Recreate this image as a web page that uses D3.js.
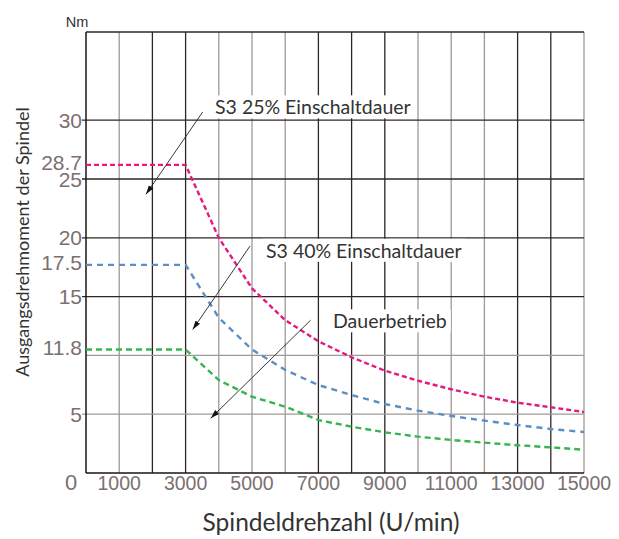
<!DOCTYPE html>
<meta charset="utf-8">
<style>
  body { margin: 0; background: #fff; }
  svg { display: block; }
</style>
<svg width="619" height="539"></svg>
<script src="https://cdn.jsdelivr.net/npm/d3@7"></script>
<script>

// drehzahl in U/min
var rpm = [0, 1000, 2000, 3000, 4000, 5000, 6000, 7000, 8000, 9000, 10000, 11000, 12000, 13000, 14000, 15000];

// drehmoment as drawn on the chart grid (Nm)
var s3_25 = [26.2, 26.2, 26.2, 26.2, 20.0, 15.7, 13.0, 11.2, 9.84, 8.7, 7.85, 7.12, 6.49, 5.98, 5.59, 5.19];
var s3_40 = [17.7, 17.7, 17.7, 17.7, 13.2, 10.5, 8.76, 7.48, 6.63, 5.87, 5.3, 4.85, 4.45, 4.08, 3.74, 3.49];
var dauer = [10.5, 10.5, 10.5, 10.5, 7.9, 6.49, 5.64, 4.5, 3.94, 3.46, 3.09, 2.81, 2.58, 2.36, 2.18, 1.98];

var seriesNames = ["S3 25% Einschaltdauer", "S3 40% Einschaltdauer", "Dauerbetrieb"];
var seriesColors = ["#e6197f", "#5b8ec3", "#35b550"];
var seriesLabels = ["28.7", "17.5", "11.8"];

var yTicks = [5, 15, 20, 25, 30];
var yGrid = [5, 10, 15, 20, 25, 30];
var xTicks = [1000, 3000, 5000, 7000, 9000, 11000, 13000, 15000];
var xGrid = d3.range(1000, 15001, 1000);

// annotation: text anchor and arrow from/to, in data units
var notes = [
  {text: seriesNames[0], tx: 3886, ty: 30.5, from: [3515, 30.7], to: [1807, 23.7]},
  {text: seriesNames[1], tx: 5422, ty: 18.3, from: [4940, 19.3], to: [3214, 12.2]},
  {text: seriesNames[2], tx: 7440, ty: 12.3, from: [6768, 13.0], to: [3756, 4.65]}
];

var greyX = [1000, 4000, 5000, 6000, 10000, 11000, 12000, 15000];
var greyY = [5, 10];

var svg = d3.select("svg");
var x = d3.scaleLinear().domain([0, 15000]).range([86, 584]);
var y = d3.scaleLinear().domain([0, 37.5]).range([473, 32]);

var dark = "#2e2626", grey = "#a09898";
var humanist = "Lato, 'Open Sans', sans-serif";

// grid
svg.append("g").selectAll("line").data(xGrid).join("line")
    .attr("x1", d => x(d)).attr("x2", d => x(d))
    .attr("y1", y(37.5)).attr("y2", y(0))
    .attr("stroke", d => greyX.indexOf(d) >= 0 ? grey : dark)
    .attr("stroke-width", 1.3);

svg.append("g").selectAll("line").data(yGrid).join("line")
    .attr("x1", d => yTicks.indexOf(d) >= 0 ? x(0) - 4 : x(0)).attr("x2", x(15000))
    .attr("y1", d => y(d)).attr("y2", d => y(d))
    .attr("stroke", d => greyY.indexOf(d) >= 0 ? grey : dark)
    .attr("stroke-width", 1.3);

// frame
svg.append("line").attr("x1", x(0)).attr("x2", x(15000)).attr("y1", y(37.5)).attr("y2", y(37.5))
    .attr("stroke", dark).attr("stroke-width", 1.3);
svg.append("line").attr("x1", x(0)).attr("x2", x(15000)).attr("y1", y(0)).attr("y2", y(0))
    .attr("stroke", "#1a1414").attr("stroke-width", 1.5);
svg.append("line").attr("x1", x(0)).attr("x2", x(0)).attr("y1", y(37.5)).attr("y2", y(0))
    .attr("stroke", "#1a1414").attr("stroke-width", 1.5);

// annotation boxes + text
var noteG = svg.append("g");
notes.forEach(function(n) {
  var t = noteG.append("text")
      .attr("x", x(n.tx)).attr("y", y(n.ty))
      .attr("font-family", humanist)
      .attr("font-size", 19.5)
      .attr("fill", "#333")
      .text(n.text);
  var b = t.node().getBBox();
  noteG.insert("rect", "text")
      .attr("x", b.x - 4).attr("y", b.y)
      .attr("width", b.width + 8).attr("height", b.height)
      .attr("fill", "#fff");
});

// curves
var line = d3.line().x((d, i) => x(rpm[i])).y(d => y(d));
var dashes = ["5,3", "6,5", "6,4"];
[s3_25, s3_40, dauer].forEach(function(s, k) {
  svg.append("path").datum(s)
      .attr("d", line)
      .attr("fill", "none")
      .attr("stroke", seriesColors[k])
      .attr("stroke-width", 2.4)
      .attr("stroke-dasharray", dashes[k]);
});

// arrows
svg.append("defs").append("marker")
    .attr("id", "ah").attr("viewBox", "0 0 10 10")
    .attr("refX", 10).attr("refY", 5)
    .attr("markerWidth", 9).attr("markerHeight", 9)
    .attr("markerUnits", "userSpaceOnUse")
    .attr("orient", "auto")
  .append("path").attr("d", "M0,2L10,5L0,8z").attr("fill", "#111");

svg.append("g").selectAll("line").data(notes).join("line")
    .attr("x1", d => x(d.from[0])).attr("y1", d => y(d.from[1]))
    .attr("x2", d => x(d.to[0])).attr("y2", d => y(d.to[1]))
    .attr("stroke", "#222").attr("stroke-width", 0.9)
    .attr("marker-end", "url(#ah)");

// y labels
var labFont = "'Liberation Sans', Arial, sans-serif";
svg.append("g").selectAll("text").data(yTicks).join("text")
    .attr("x", x(0) - 4).attr("y", d => y(d))
    .attr("dy", "0.36em")
    .attr("text-anchor", "end")
    .attr("font-family", labFont).attr("font-size", 21)
    .attr("fill", "#7b7070")
    .text(d => d);

svg.append("g").selectAll("text").data([s3_25[0], s3_40[0], dauer[0]]).join("text")
    .attr("x", x(0) - 4).attr("y", d => y(d))
    .attr("dy", "0.26em")
    .attr("text-anchor", "end")
    .attr("font-family", labFont).attr("font-size", 21)
    .attr("fill", "#7b7070")
    .text((d, i) => seriesLabels[i]);

svg.append("text")
    .attr("x", 71).attr("y", 490)
    .attr("text-anchor", "middle")
    .attr("font-family", labFont).attr("font-size", 22)
    .attr("fill", "#7b7070")
    .text("0");

// x labels
svg.append("g").selectAll("text").data(xTicks).join("text")
    .attr("x", d => x(d)).attr("y", 490)
    .attr("text-anchor", "middle")
    .attr("font-family", labFont).attr("font-size", 19.5)
    .attr("fill", "#7b7070")
    .text(d => d);

// units + titles
svg.append("text")
    .attr("x", 77).attr("y", 27)
    .attr("text-anchor", "middle")
    .attr("font-family", labFont).attr("font-size", 14.5)
    .attr("fill", "#333")
    .text("Nm");

svg.append("text")
    .attr("x", 331).attr("y", 531)
    .attr("text-anchor", "middle")
    .attr("font-family", humanist).attr("font-size", 24.5)
    .attr("fill", "#333")
    .text("Spindeldrehzahl (U/min)");

svg.append("text")
    .attr("transform", "translate(29,242) rotate(-90)")
    .attr("text-anchor", "middle")
    .attr("font-family", humanist).attr("font-size", 18)
    .attr("fill", "#333")
    .text("Ausgangsdrehmoment der Spindel");

</script>
